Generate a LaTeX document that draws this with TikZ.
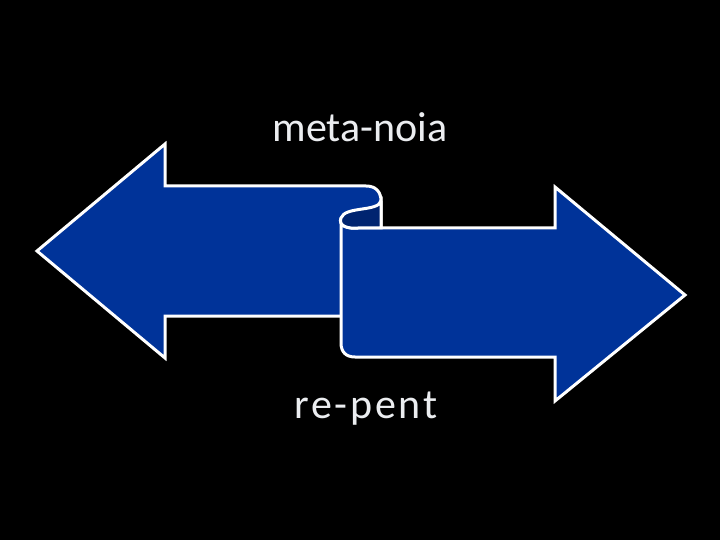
\documentclass[tikz,border=0pt]{standalone}
\usepackage{fontspec}
\setmainfont{Carlito}
\newfontfamily\widecarlito[LetterSpace=6.5]{Carlito}
\definecolor{arrowblue}{RGB}{0,51,153}
\definecolor{curlblue}{RGB}{0,36,112}
\definecolor{textgray}{RGB}{235,237,240}
\begin{document}
\begin{tikzpicture}[x=1pt,y=-1pt,
  arrowshape/.style={fill=arrowblue,draw=white,line width=3pt,line join=miter},
  curlshape/.style={fill=curlblue,draw=white,line width=3pt},
  label/.style={text=textgray,font=\fontsize{42}{48}\selectfont,inner sep=0pt,anchor=base}]
\fill[black] (0,0) rectangle (720,540);
\useasboundingbox (0,0) rectangle (720,540);
% left arrow
\draw[arrowshape] (37,251) -- (165,144) -- (165,186) -- (366,186)
  .. controls (376,186) and (381,192) .. (381,201) -- (381,316) -- (165,316) -- (165,358) -- cycle;
% right arrow
\draw[arrowshape] (341,218) -- (341,343) .. controls (341,352) and (346,357) .. (355,357)
  -- (555,357) -- (555,401) -- (685,295) -- (555,187) -- (555,228) -- (358,228)
  .. controls (348,229) and (338,226) .. (341,218) -- cycle;
% inner curl of the scroll
\draw[curlshape] (381,201) .. controls (378,212) and (345,206) .. (341,218)
  .. controls (338,226) and (348,229) .. (358,228) -- (381,228) -- cycle;
\node[label] (top) at (360,142) {meta-noia};
\node[label] (bottom) at (366,418) {\widecarlito re-pent};
\end{tikzpicture}
\end{document}
